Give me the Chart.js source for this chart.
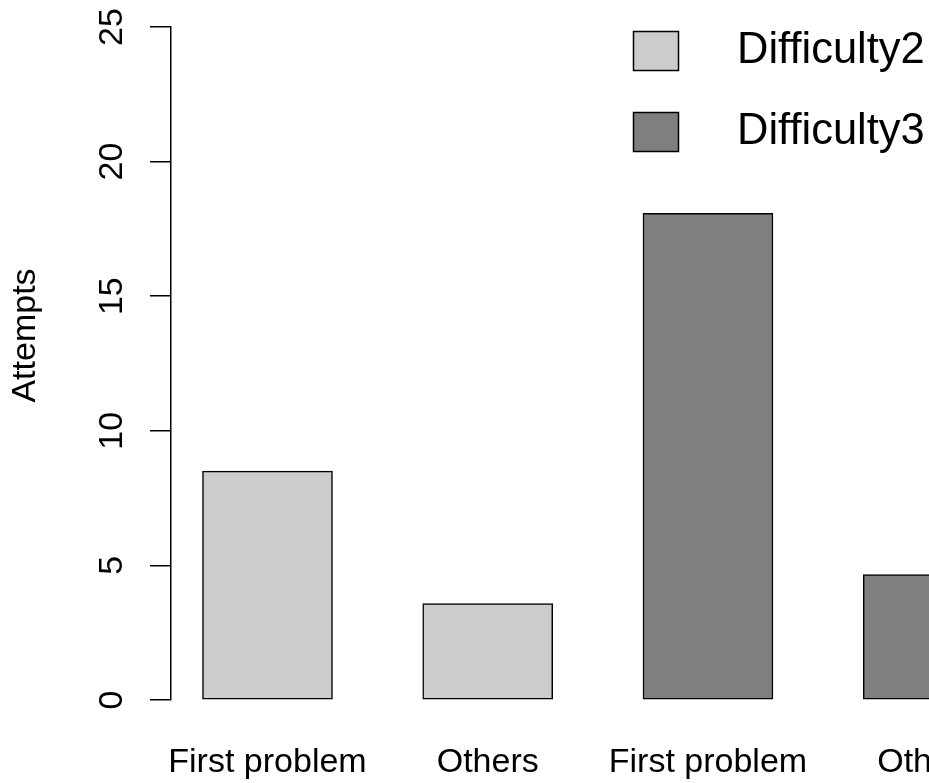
<!DOCTYPE html>
<html>
<head>
<meta charset="utf-8">
<script src="https://cdn.jsdelivr.net/npm/chart.js@4.4.1/dist/chart.umd.min.js"></script>
<style>
  html, body { margin: 0; padding: 0; background: #fff; overflow: hidden; width: 929px; height: 783px; }
  #wrap { width: 1100px; height: 783px; }
  canvas { display: block; }
</style>
</head>
<body>
<div id="wrap"><canvas id="c" width="1100" height="783"></canvas></div>
<script>
// Bar labels along the x axis, in drawing order
const categories = ['First problem', 'Others', 'First problem', 'Others'];
// Series shown in the legend
const seriesNames = ['Difficulty2', 'Difficulty3'];
// Mean attempts per group
const difficulty2 = [8.5, 3.58];
const difficulty3 = [18.08, 4.66];
// Y axis
const yTicks = [0, 5, 10, 15, 20, 25];
const yTitle = 'Attempts';

const FONT = "'Liberation Sans', Arial, Helvetica, sans-serif";
const AXIS_PX = 34;
const LEGEND_PX = 43.5;
const LINE = 1.5;

// bar i sits at x = i + 1 on a numeric axis, labelled from `categories`
const toPoints = (vals, start) => vals.map((v, i) => ({ x: start + i + 1, y: v }));

// Legend drawn as filled squares followed by series names
const boxLegend = {
  id: 'boxLegend',
  afterDraw(chart, args, o) {
    const ctx = chart.ctx;
    ctx.save();
    chart.data.datasets.forEach((ds, i) => {
      const top = o.top + i * o.rowStep;
      ctx.fillStyle = ds.backgroundColor;
      ctx.fillRect(o.left, top, o.boxW, o.boxH);
      ctx.lineWidth = LINE;
      ctx.strokeStyle = '#000';
      ctx.strokeRect(o.left, top, o.boxW, o.boxH);
      ctx.fillStyle = '#000';
      ctx.font = LEGEND_PX + 'px ' + FONT;
      ctx.textAlign = 'left';
      ctx.textBaseline = 'middle';
      ctx.fillText(ds.label, o.textLeft, top + o.boxH / 2);
    });
    ctx.restore();
  }
};

// Rotated y-axis title centred on the plot region
const sideTitle = {
  id: 'sideTitle',
  afterDraw(chart, args, o) {
    const ctx = chart.ctx;
    ctx.save();
    ctx.translate(o.x, o.y);
    ctx.rotate(-Math.PI / 2);
    ctx.fillStyle = '#000';
    ctx.font = AXIS_PX + 'px ' + FONT;
    ctx.textAlign = 'center';
    ctx.textBaseline = 'middle';
    ctx.fillText(o.text, 0, 0);
    ctx.restore();
  }
};

const zeroPadding = (scale) => {
  scale.paddingTop = 0; scale.paddingBottom = 0;
  scale.paddingLeft = 0; scale.paddingRight = 0;
};

new Chart(document.getElementById('c'), {
  type: 'bar',
  data: {
    datasets: [
      { label: seriesNames[0], data: toPoints(difficulty2, 0), backgroundColor: '#CCCCCC' },
      { label: seriesNames[1], data: toPoints(difficulty3, 2), backgroundColor: '#7F7F7F' }
    ]
  },
  options: {
    responsive: false,
    animation: false,
    devicePixelRatio: 1,
    layout: { padding: { top: 27, left: 0, right: 0, bottom: 0 } },
    datasets: {
      bar: { barThickness: 130, grouped: false, borderColor: '#000', borderWidth: LINE, borderSkipped: false }
    },
    scales: {
      x: {
        type: 'linear',
        offset: false,
        min: 0.5619,
        max: 4.78,
        bounds: 'data',
        grid: { display: false, drawTicks: false, offset: false },
        border: { display: false },
        afterBuildTicks: (s) => { s.ticks = categories.map((c, i) => ({ value: i + 1 })); },
        afterFit: (s) => { s.height = 83; zeroPadding(s); },
        ticks: {
          autoSkip: false,
          maxRotation: 0,
          minRotation: 0,
          padding: 42.5,
          color: '#000',
          font: { family: FONT, size: AXIS_PX },
          callback: (v) => categories[Math.round(v) - 1]
        }
      },
      y: {
        type: 'linear',
        min: 0,
        max: 25,
        afterBuildTicks: (s) => { s.ticks = yTicks.map((v) => ({ value: v })); },
        afterFit: (s) => { s.width = 171; zeroPadding(s); },
        grid: { display: true, drawOnChartArea: false, drawTicks: true, tickLength: 21, color: '#000', lineWidth: LINE },
        border: { display: true, color: '#000', width: LINE },
        ticks: {
          minRotation: 90,
          maxRotation: 90,
          crossAlign: 'center',
          padding: 18.5,
          color: '#000',
          font: { family: FONT, size: AXIS_PX }
        }
      }
    },
    plugins: {
      legend: { display: false },
      tooltip: { enabled: false },
      boxLegend: { left: 633.5, top: 31.5, boxW: 45, boxH: 39, rowStep: 81, textLeft: 737 },
      sideTitle: { text: yTitle, x: 26, y: 335.5 }
    }
  },
  plugins: [boxLegend, sideTitle]
});
</script>
</body>
</html>
